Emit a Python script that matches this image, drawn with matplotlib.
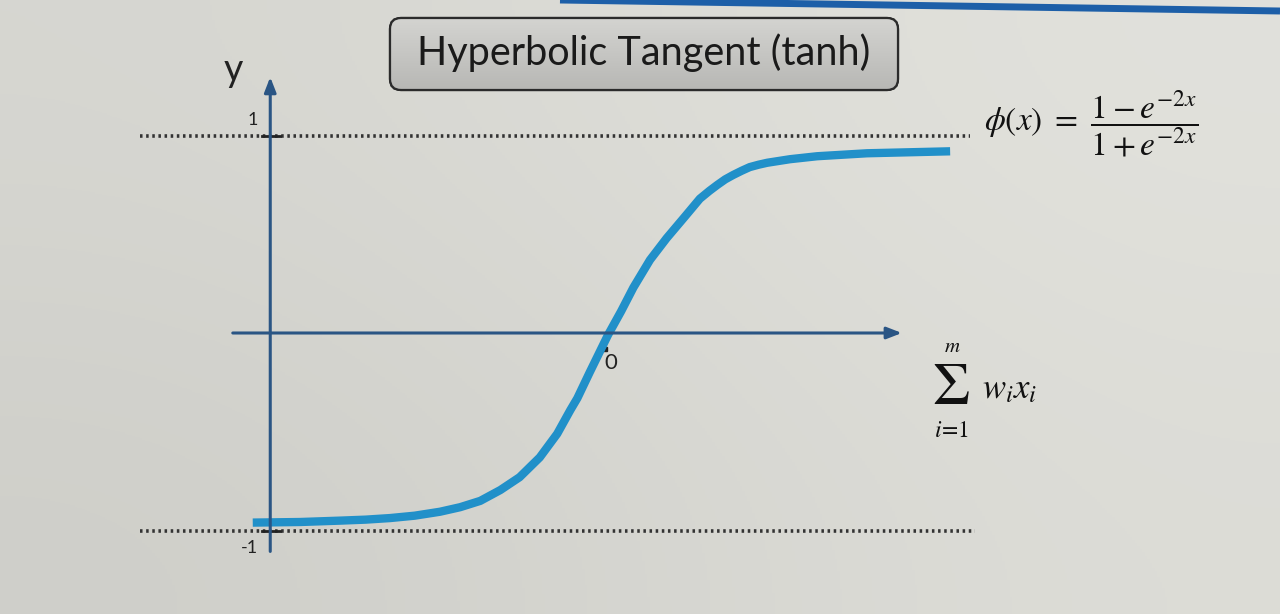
import numpy as np
import matplotlib
matplotlib.use("Agg")
import matplotlib.pyplot as plt
from matplotlib.patches import FancyBboxPatch

plt.rcParams['mathtext.fontset'] = 'stix'

# tanh curve, points
curve_x = [-4.06, -3.52, -3.06, -2.77, -2.49, -2.21, -1.92, -1.69, -1.46, -1.23,
           -1.01, -0.78, -0.58, -0.43, -0.35, -0.21, 0.00, 0.15, 0.29, 0.48,
           0.67, 0.88, 1.05, 1.16, 1.25, 1.34, 1.43, 1.53, 1.62, 1.72, 1.82, 2.08,
           2.39, 2.96, 3.91]
curve_y = [-0.96, -0.957, -0.95, -0.945, -0.937, -0.925, -0.905, -0.882, -0.85, -0.795,
           -0.73, -0.63, -0.51, -0.39, -0.33, -0.20, -0.01, 0.11, 0.23, 0.37,
           0.48, 0.59, 0.68, 0.72, 0.75, 0.778, 0.80, 0.822, 0.84, 0.852, 0.862, 0.88,
           0.895, 0.91, 0.92]

asymptotes = [1, -1]
ytick_labels = ['1', '-1']
title = 'Hyperbolic Tangent (tanh)'
formula = r'$\phi(x)\ =\ \dfrac{1-e^{-2x}}{1+e^{-2x}}$'

W, H = 1280, 614
fig = plt.figure(figsize=(W / 100, H / 100), dpi=100)

# background (photo of a screen, slight gradient)
bg = fig.add_axes([0, 0, 1, 1])
bg.set_axis_off()
grad = np.array([[0.84, 0.885], [0.81, 0.865]])
bg.imshow(np.dstack([grad, grad, grad * 0.975]), extent=[0, 1, 0, 1],
          interpolation='bicubic', aspect='auto')
bg.set_xlim(0, 1)
bg.set_ylim(0, 1)

# main plot axes: 87.5 px per x unit, 197.5 px per y unit
ax = fig.add_axes([0, 0, 1, 1], facecolor='none')
ax.set_xlim(-608 / 87.5, 672 / 87.5)
ax.set_ylim((333 - 614) / 197.5, 333 / 197.5)
ax.set_axis_off()

axis_col = '#2a5584'
# dotted asymptotes
ax.plot([-5.35, 4.14], [1, 1], color='#333333', lw=2.6, ls=(0, (0.7, 1.0)))
ax.plot([-5.35, 4.19], [-1, -1], color='#333333', lw=2.6, ls=(0, (0.7, 1.0)))

# axes with arrows
ax.annotate('', xy=(-3.86, 1.31), xytext=(-3.86, -1.12),
            arrowprops=dict(arrowstyle='-|>,head_length=0.9,head_width=0.35',
                            color=axis_col, lw=2.2))
ax.annotate('', xy=(3.39, 0), xytext=(-4.32, 0),
            arrowprops=dict(arrowstyle='-|>,head_length=0.9,head_width=0.35',
                            color=axis_col, lw=2.2))

# tick marks on y axis
for yv, lab in zip(asymptotes, ytick_labels):
    ax.plot([-3.95, -3.75], [yv, yv], color='#222222', lw=2)
    ax.text(-4.0, yv + (0.04 if yv > 0 else -0.05), lab, fontsize=13,
            family='Lato', color='#222222', ha='right',
            va='bottom' if yv > 0 else 'top')
ax.plot([-0.03], [-0.08], marker='s', ms=2.5, color='#222222')
ax.text(0.03, -0.1, '0', fontsize=16, family='Lato', color='#222222',
        ha='center', va='top')
ax.text(-4.28, 1.33, 'y', fontsize=27, family='Lato', color='#222222',
        ha='center', va='center')

# the curve
ax.plot(curve_x, curve_y, color='#2190c9', lw=6, solid_capstyle='butt',
        solid_joinstyle='round')

# overlay in pixel coords for title box and formulas
ov = fig.add_axes([0, 0, 1, 1], facecolor='none')
ov.set_xlim(0, W)
ov.set_ylim(H, 0)
ov.set_axis_off()

box = FancyBboxPatch((390, 18), 508, 72, boxstyle='round,pad=0,rounding_size=11',
                     facecolor='#c6c6c2', edgecolor='#2b2b2b', lw=1.6, zorder=2)
ov.add_patch(box)
g = np.linspace(0.83, 0.72, 50)[:, None] * np.ones((1, 2))
im = ov.imshow(np.dstack([g, g, g * 0.985]), extent=[390, 898, 90, 18],
               interpolation='bicubic', aspect='auto', zorder=2)
im.set_clip_path(box)
ov.add_patch(FancyBboxPatch((390, 18), 508, 72, boxstyle='round,pad=0,rounding_size=11',
                            facecolor='none', edgecolor='#2b2b2b', lw=1.6, zorder=3))
ov.text(644, 53, title, fontsize=28.5, family='Lato', color='#1a1a1a',
        ha='center', va='center', zorder=4)

ov.text(984, 124, formula, fontsize=24, color='#111111', ha='left', va='center')

# summation label, built from pieces so the sigma is large
ov.text(952, 346, r'$m$', fontsize=15, color='#111111', ha='center', va='center')
ov.text(951, 388, r'$\Sigma$', fontsize=43, color='#111111', ha='center', va='center')
ov.text(952, 430, r'$i\!=\!1$', fontsize=17, color='#111111', ha='center', va='center')
ov.text(982, 388, r'$w_i x_i$', fontsize=25, color='#111111', ha='left', va='center')

# screen edge at the top right
ov.plot([560, 1280], [0, 11], color='#1d5fa8', lw=5, solid_capstyle='butt')

fig.savefig('out.png', dpi=100)
